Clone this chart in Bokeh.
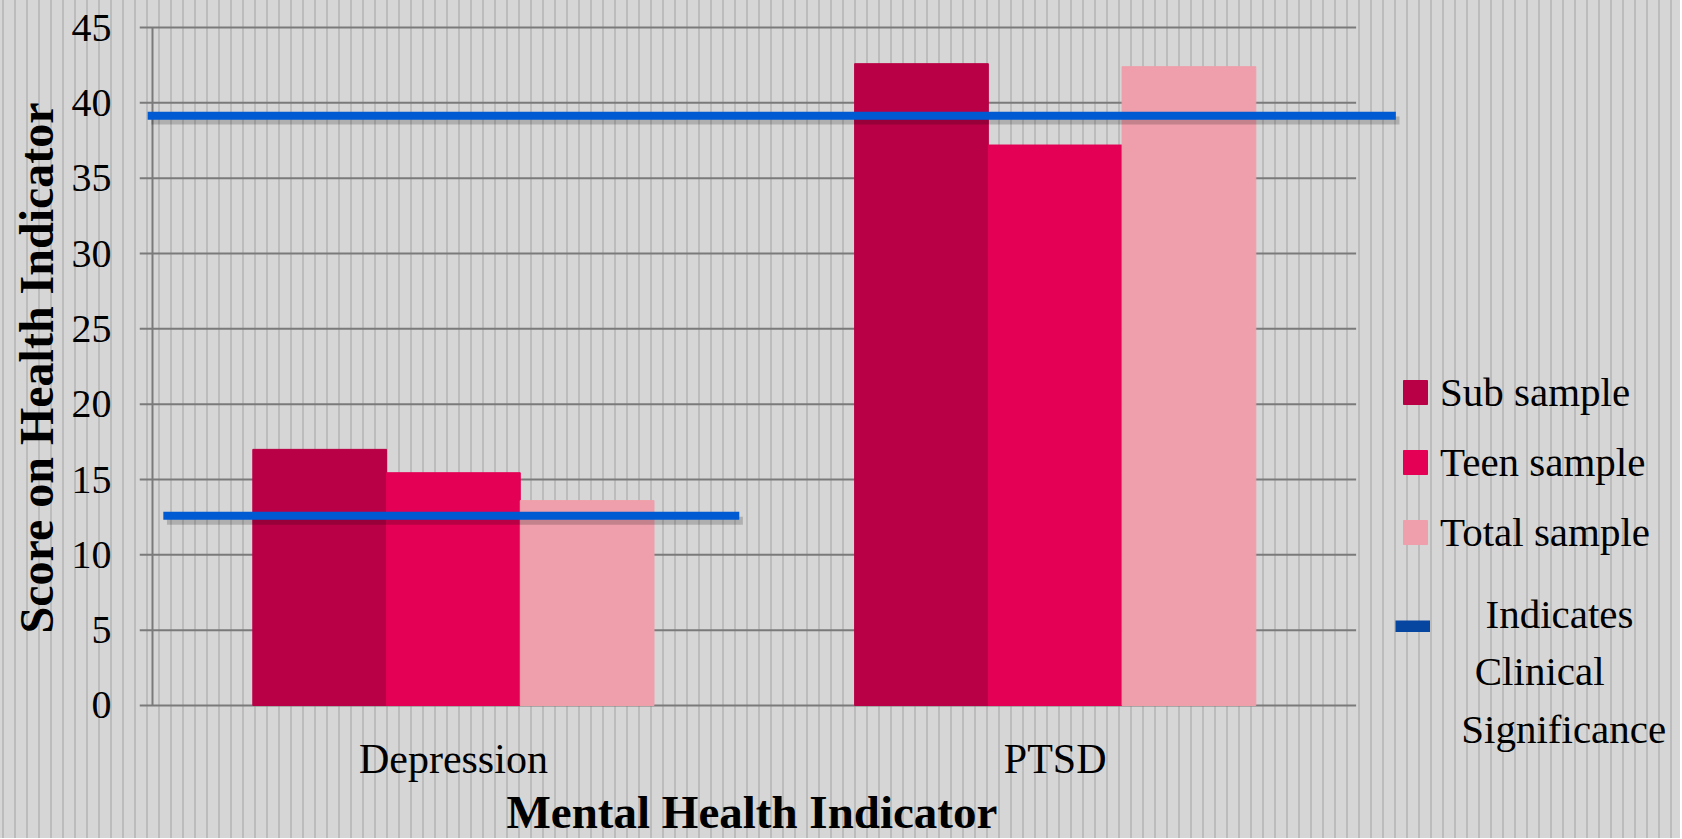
from bokeh.plotting import figure
from bokeh.models import FixedTicker, Range1d, Legend, LegendItem, Label, Title
from bokeh.embed import file_html
from bokeh.resources import INLINE

# ---------------- data ----------------
categories = ["Depression", "PTSD"]
series_names = ["Sub sample", "Teen sample", "Total sample"]
sub_sample = [17.0, 42.6]
teen_sample = [15.45, 37.2]
total_sample = [13.6, 42.4]
clinical_cutoffs = [12.6, 39.15]
y_ticks = [0, 5, 10, 15, 20, 25, 30, 35, 40, 45]
cutoff_label_lines = ["Indicates", "Clinical", "Significance"]

# ---------------- styles / layout ----------------
COLORS = ["#b90046", "#e30055", "#ee9fab"]
CUTOFF_COLOR = "#005ad2"
CUTOFF_LEGEND_COLOR = "#0645a0"
GRID_COLOR = "#7a7a7a"
FONT = "Liberation Serif"
CUTOFF_SPANS = [(0.018, 0.975), (-0.008, 2.066)]
BAR_W = 2.0 / 9.0
X_START, X_END = -0.0216, 2.539
Y_START, Y_END = -3.186, 45.2
LABEL_POS_X = [2.338, 2.305, 2.345]
LABEL_POS_Y = [6.04, 2.26, -1.53]

p = figure(width=1680, height=838,
           x_range=Range1d(X_START, X_END), y_range=Range1d(Y_START, Y_END),
           output_backend="svg", toolbar_location=None,
           min_border_left=139, min_border_right=0,
           min_border_top=24, min_border_bottom=85)
p.background_fill_color = None
p.border_fill_color = None
p.outline_line_color = None
p.styles = {"background-image":
            "repeating-linear-gradient(90deg, #d6d6d6 0px, #d6d6d6 2px, #bcbcbc 2px, "
            "#bcbcbc 4px, #d6d6d6 4px, #d6d6d6 12px)"}
p.xgrid.visible = False
p.ygrid.visible = False

n_cat = len(categories)
# horizontal grid lines (from the tick values) and the vertical axis line
p.segment(x0=[X_START] * len(y_ticks), x1=[float(n_cat)] * len(y_ticks),
          y0=y_ticks, y1=y_ticks, line_color=GRID_COLOR, line_width=2)
p.segment(x0=[0], x1=[0], y0=[y_ticks[0]], y1=[y_ticks[-1]],
          line_color=GRID_COLOR, line_width=2)

# bars
bar_renderers = []
for j, (vals, col) in enumerate(zip([sub_sample, teen_sample, total_sample], COLORS)):
    xs = [i + 0.5 + (j - 1) * BAR_W for i in range(n_cat)]
    r = p.vbar(x=xs, top=vals, bottom=0, width=BAR_W,
               fill_color=col, line_color=col, line_width=1)
    bar_renderers.append(r)

# clinical cutoff lines with soft shadow
for (x0, x1), yv in zip(CUTOFF_SPANS, clinical_cutoffs):
    p.line(x=[x0 + 0.006, x1 + 0.006], y=[yv - 0.33, yv - 0.33],
           line_color="black", line_alpha=0.18, line_width=8)
    p.line(x=[x0, x1], y=[yv, yv], line_color=CUTOFF_COLOR, line_width=8)

# legend-only renderer for the cutoff marker (NaN: nothing drawn in the plot)
legend_line = p.line(x=[float("nan")], y=[float("nan")],
                     line_color=CUTOFF_LEGEND_COLOR, line_width=12)

# axes
p.xaxis.ticker = FixedTicker(ticks=[i + 0.5 for i in range(n_cat)])
p.xaxis.major_label_overrides = {i + 0.5: c for i, c in enumerate(categories)}
p.xaxis.axis_line_color = None
p.xaxis.major_tick_line_color = None
p.xaxis.minor_tick_line_color = None
p.xaxis.major_label_text_font = FONT
p.xaxis.major_label_text_font_size = "42px"
p.xaxis.major_label_text_color = "black"
p.xaxis.major_label_standoff = -24

p.yaxis.ticker = FixedTicker(ticks=y_ticks)
p.yaxis.axis_line_color = None
p.yaxis.major_tick_line_color = None
p.yaxis.minor_tick_line_color = None
p.yaxis.major_label_text_font = FONT
p.yaxis.major_label_text_font_size = "40px"
p.yaxis.major_label_text_color = "black"
p.yaxis.major_label_standoff = 22

# axis titles
p.add_layout(Title(text="Score on Health Indicator", align="left", offset=120,
                   standoff=12, text_font=FONT, text_font_style="bold",
                   text_font_size="48px", text_color="black"), "left")
p.add_layout(Title(text="Mental Health Indicator", align="left", offset=367,
                   standoff=-1, text_font=FONT, text_font_style="bold",
                   text_font_size="47px", text_color="black"), "below")

# legend for bars
leg1 = Legend(items=[LegendItem(label=n, renderers=[r]) for n, r in zip(series_names, bar_renderers)],
              location=(1261, 197), glyph_width=30, glyph_height=30,
              label_height=48, spacing=22, padding=0, margin=0, label_standoff=10,
              border_line_color=None, background_fill_alpha=0,
              label_text_font=FONT, label_text_font_size="41px", label_text_color="black")
p.add_layout(leg1)

# legend for the cutoff line (its text is written below as centred lines)
leg2 = Legend(items=[LegendItem(label=" ", renderers=[legend_line])],
              location=(1256, 104), glyph_width=35, glyph_height=12,
              label_height=47, spacing=0, padding=0, margin=0, label_standoff=0,
              border_line_color=None, background_fill_alpha=0,
              label_text_font=FONT, label_text_font_size="41px")
p.add_layout(leg2)

for txt, lx, ly in zip(cutoff_label_lines, LABEL_POS_X, LABEL_POS_Y):
    p.add_layout(Label(x=lx, y=ly, text=txt, text_align="center", text_baseline="alphabetic",
                       text_font=FONT, text_font_size="41px", text_color="black"))

open("out.html", "w").write(file_html(p, INLINE))
